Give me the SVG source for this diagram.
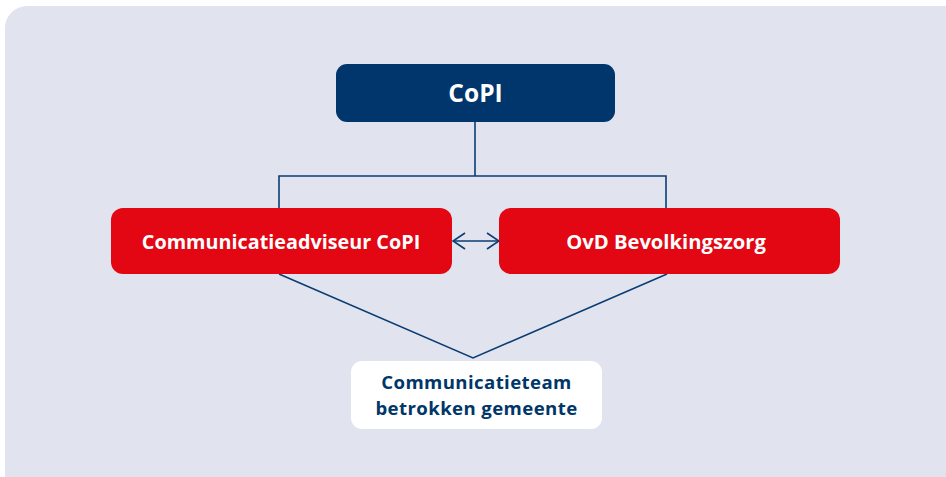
<svg xmlns="http://www.w3.org/2000/svg" width="946" height="477" viewBox="0 0 946 477">
<defs>
<style>
.t{font-family:"Open Sans","DejaVu Sans",sans-serif;font-weight:bold;text-anchor:middle}
.w{fill:#ffffff}
.n{fill:#003668}
.ln{fill:none;stroke:#0b3d73;stroke-width:1.6}
</style>
<marker id="ah" viewBox="0 0 14 18" refX="13" refY="9" markerWidth="14" markerHeight="18" markerUnits="userSpaceOnUse" orient="auto-start-reverse">
<path d="M1,1 L13,9 L1,17" fill="none" stroke="#0b3d73" stroke-width="1.6"/>
</marker>
</defs>
<rect x="0" y="0" width="946" height="477" fill="#ffffff"/>
<rect x="5" y="6" width="961" height="490" rx="22" fill="#e1e3ee"/>
<g id="connectors">
<path class="ln" d="M475,122 V176 M279,209 V176 H666 V209"/>
<path class="ln" d="M279,274 L473,358 L667,274"/>
<line class="ln" x1="453" y1="241" x2="499" y2="241" marker-start="url(#ah)" marker-end="url(#ah)"/>
</g>
<g id="copi">
<rect x="336" y="64" width="279" height="58" rx="11" fill="#00366b"/>
<text class="t w" x="475.5" y="102" font-size="24.5">CoPI</text>
</g>
<g id="communicatieadviseur">
<rect x="111" y="208" width="341" height="66" rx="12" fill="#e30613"/>
<text class="t w" x="281" y="248.5" font-size="19.8">Communicatieadviseur CoPI</text>
</g>
<g id="ovd">
<rect x="499" y="208" width="341" height="66" rx="12" fill="#e30613"/>
<text class="t w" x="666" y="248.5" font-size="20.2">OvD Bevolkingszorg</text>
</g>
<g id="team">
<rect x="351" y="361" width="251" height="68" rx="11" fill="#ffffff"/>
<text class="t n" x="476.5" y="389" font-size="18.6" letter-spacing="0.4">Communicatieteam</text>
<text class="t n" x="476.5" y="414.5" font-size="18.6" letter-spacing="0.4">betrokken gemeente</text>
</g>
</svg>
